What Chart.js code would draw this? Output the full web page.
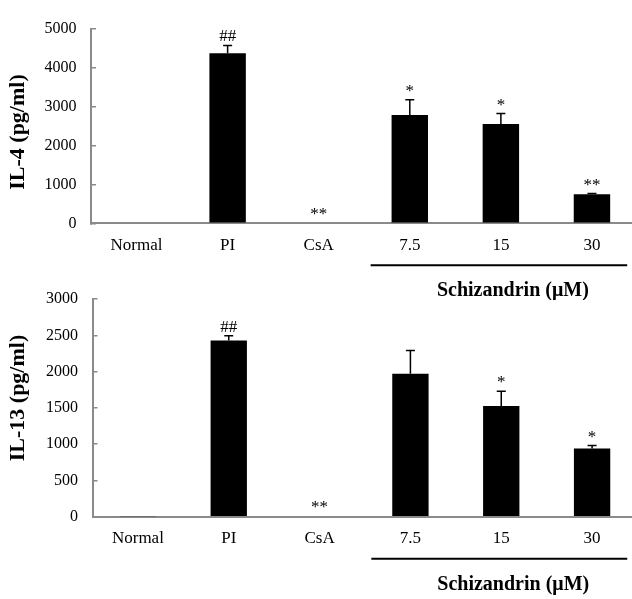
<!DOCTYPE html>
<html lang="en">
<head>
  <meta charset="UTF-8" />
  <title>IL-4 / IL-13 Schizandrin</title>
  <script src="https://cdn.jsdelivr.net/npm/chart.js"></script>
  <style>
    body { margin: 0; background: #fff; overflow: hidden; }
    canvas { position: absolute; left: 0; }
    #il4Chart { top: 0; }
    #il13Chart { top: 270px; }
  </style>
</head>
<body>

  <canvas id="il4Chart" width="640" height="300"></canvas>
  <canvas id="il13Chart" width="640" height="329"></canvas>

  <script>
    // data
    const groups = ['Normal', 'PI', 'CsA', '7.5', '15', '30'];
    const doseLabel = 'Schizandrin (\u03bcM)';
    const doseGroups = ['7.5', '15', '30'];

    const il4Mean = [0, 4380, 0, 2790, 2555, 745];
    const il4Err = [0, 200, 0, 390, 270, 20];
    const il4Marks = ['', '##', '**', '*', '*', '**'];
    const il4Ticks = [0, 1000, 2000, 3000, 4000, 5000];

    const il13Mean = [5, 2430, 10, 1970, 1525, 940];
    const il13Err = [0, 65, 0, 320, 205, 40];
    const il13Marks = ['', '##', '**', '', '*', '*'];
    const il13Ticks = [0, 500, 1000, 1500, 2000, 2500, 3000];

    const serif = "'Liberation Serif', 'Times New Roman', serif";
    const axisGray = '#8a8a8a';
    Chart.defaults.font.family = serif;
    Chart.defaults.color = '#000';

    function makeChart(id, title, means, errs, marks, yTicks, box) {
      const decor = {
        id: 'decor',
        afterDatasetsDraw(chart) {
          const c = chart.ctx;
          const x = chart.scales.x, y = chart.scales.y;
          c.save();
          c.strokeStyle = '#000';
          c.lineWidth = 1.5;
          c.fillStyle = '#000';
          c.font = '17px ' + serif;
          c.textAlign = 'center';
          c.textBaseline = 'alphabetic';
          means.forEach((m, i) => {
            const cx = x.getPixelForValue(i);
            const top = y.getPixelForValue(m + errs[i]);
            if (errs[i] > 0) {
              c.beginPath();
              c.moveTo(cx, y.getPixelForValue(m));
              c.lineTo(cx, top);
              c.moveTo(cx - 4.5, top);
              c.lineTo(cx + 4.5, top);
              c.stroke();
            }
            if (marks[i]) c.fillText(marks[i], cx, top - 4);
          });
          c.restore();
        },
        afterDraw(chart) {
          const c = chart.ctx;
          const x = chart.scales.x;
          const area = chart.chartArea;
          const first = x.getPixelForValue(groups.indexOf(doseGroups[0]));
          const last = x.getPixelForValue(groups.indexOf(doseGroups[doseGroups.length - 1]));
          const half = (x.getPixelForValue(1) - x.getPixelForValue(0)) * 0.43;
          c.save();
          c.strokeStyle = '#000';
          c.lineWidth = 2;
          c.beginPath();
          c.moveTo(first - half, area.bottom + 42);
          c.lineTo(last + half * 0.9, area.bottom + 42);
          c.stroke();
          c.fillStyle = '#000';
          c.font = 'bold 20px ' + serif;
          c.textAlign = 'center';
          c.textBaseline = 'middle';
          c.fillText(doseLabel, (first + last) / 2 + 12, area.bottom + 68);
          // y axis title
          c.translate(18, box.titleY);
          c.rotate(-Math.PI / 2);
          c.font = 'bold 22px ' + serif;
          c.fillText(title, 0, 0);
          c.restore();
        }
      };

      return new Chart(document.getElementById(id), {
        type: 'bar',
        data: {
          labels: groups,
          datasets: [{
            data: means,
            backgroundColor: '#000',
            borderWidth: 0,
            barPercentage: 0.8,
            categoryPercentage: 0.5
          }]
        },
        options: {
          responsive: false,
          animation: false,
          layout: { padding: { left: 0, right: 2.5, top: box.top, bottom: 0 } },
          plugins: { legend: { display: false }, tooltip: { enabled: false } },
          scales: {
            x: {
              grid: { display: false, drawTicks: false },
              border: { color: axisGray, width: 2 },
              ticks: { padding: 12, font: { size: 17 }, color: '#000' },
              afterFit: s => { s.height = box.xHeight; }
            },
            y: {
              min: 0,
              max: yTicks[yTicks.length - 1],
              afterBuildTicks: s => { s.ticks = yTicks.map(v => ({ value: v })); },
              grid: { drawOnChartArea: false, tickLength: -5, color: axisGray, lineWidth: 1.5 },
              border: { color: axisGray, width: 2 },
              ticks: { padding: 19.5, font: { size: 16 }, color: '#000', callback: v => String(v) },
              afterFit: s => { s.width = box.yWidth; }
            }
          }
        },
        plugins: [decor]
      });
    }

    makeChart('il4Chart', 'IL-4 (pg/ml)', il4Mean, il4Err, il4Marks, il4Ticks,
      { top: 17.3, xHeight: 76.7, yWidth: 91, titleY: 132 });
    makeChart('il13Chart', 'IL-13 (pg/ml)', il13Mean, il13Err, il13Marks, il13Ticks,
      { top: 14, xHeight: 82.3, yWidth: 92.5, titleY: 128 });
  </script>
</body>
</html>
